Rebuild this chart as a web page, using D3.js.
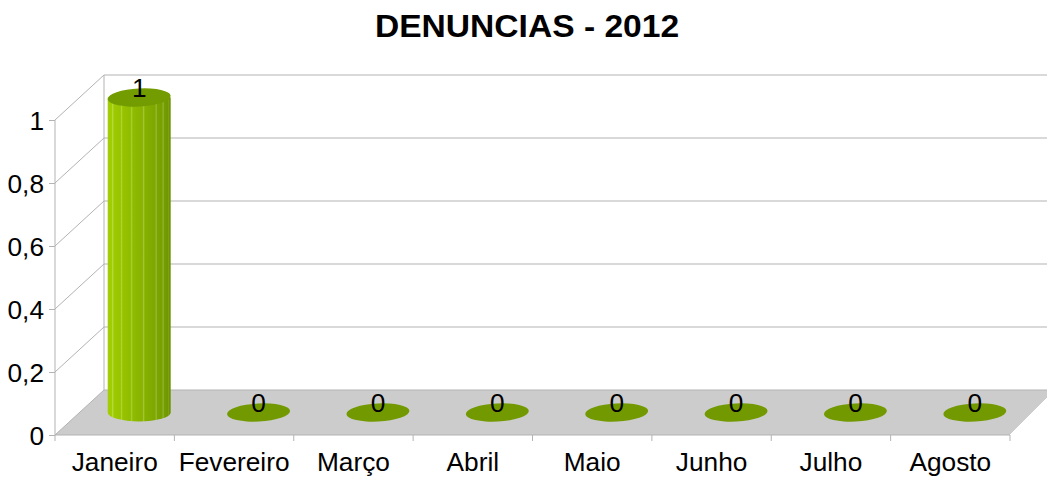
<!DOCTYPE html>
<html>
<head>
<meta charset="utf-8">
<script src="https://cdn.jsdelivr.net/npm/d3@7"></script>
<style>
  html, body { margin: 0; padding: 0; background: #fff; }
  svg { display: block; font-family: "Liberation Sans", Arial, sans-serif; }
</style>
</head>
<body>
<svg id="chart" width="1047" height="477"></svg>
<script>
// Monthly complaint counts for 2012
const months = ["Janeiro", "Fevereiro", "Março", "Abril", "Maio", "Junho", "Julho", "Agosto"];
const denuncias = [1, 0, 0, 0, 0, 0, 0, 0];
const yTicks = [0, 0.2, 0.4, 0.6, 0.8, 1];
const chartTitle = "DENUNCIAS - 2012";

const svg = d3.select("#chart");
const W = 1047;

// Front plane scales and the oblique depth offset of the 3D box
const x = d3.scaleBand().domain(months).range([55, 1010]);
const y = d3.scaleLinear().domain([0, 1]).range([435, 120]);
const depth = { dx: 49, dy: -45 };
const gridColor = "#b3b3b3";
const stretch = 1.05; // horizontal widening of the text glyphs

const fmt = v => String(v).replace(".", ",");

// Cylinder shading
const defs = svg.append("defs");
const grad = defs.append("linearGradient").attr("id", "cyl").attr("x1", 0).attr("x2", 1).attr("y1", 0).attr("y2", 0);
const stops = [
  [0, "#a2ce05"], [0.06, "#a0cc02"], [0.08, "#b6dc40"], [0.1, "#9dc900"],
  [0.2, "#98c400"], [0.22, "#aed430"], [0.24, "#96c200"], [0.36, "#91bd00"],
  [0.38, "#a8cf30"], [0.4, "#8fbb00"], [0.55, "#88b200"], [0.57, "#a2c735"],
  [0.59, "#86b000"], [0.75, "#7ea700"], [0.77, "#98bc35"], [0.79, "#7ca400"],
  [0.86, "#77a000"], [0.88, "#90b530"], [0.9, "#759d00"], [0.95, "#719800"],
  [0.96, "#8aaf2c"], [0.97, "#6f9600"], [1, "#6c9200"]
];
grad.selectAll("stop").data(stops).join("stop")
  .attr("offset", d => d[0]).attr("stop-color", d => d[1]);

// Floor
const x0 = x.range()[0], x1 = x.range()[1], yb = y(0);
svg.append("polygon")
  .attr("points", [
    [x0, yb], [x1, yb], [x1 + 45, yb + depth.dy], [x0 + depth.dx, yb + depth.dy]
  ].map(p => p.join(",")).join(" "))
  .attr("fill", "#cccccc");

// Back wall gridlines and the left wall diagonals
const grid = svg.append("g").attr("stroke", gridColor).attr("stroke-width", 1).attr("fill", "none");
yTicks.forEach(t => {
  const yy = y(t);
  grid.append("line")
    .attr("x1", x0 + depth.dx).attr("x2", W + 10)
    .attr("y1", yy + depth.dy).attr("y2", yy + depth.dy);
  grid.append("line")
    .attr("x1", x0).attr("y1", yy)
    .attr("x2", x0 + depth.dx).attr("y2", yy + depth.dy);
});
grid.append("line")
  .attr("x1", x0 + depth.dx).attr("x2", x0 + depth.dx)
  .attr("y1", y(1) + depth.dy).attr("y2", y(0) + depth.dy);
// Right edge of the floor
grid.append("line").attr("stroke", "#ffffff")
  .attr("x1", x1).attr("y1", yb).attr("x2", x1 + 45).attr("y2", yb + depth.dy);

// Y axis on the front plane
const yAxis = svg.append("g")
  .attr("transform", `translate(${x0},0)`)
  .call(d3.axisLeft(y).tickValues(yTicks).tickSize(6).tickPadding(5).tickFormat(fmt));
yAxis.select(".domain").attr("stroke", gridColor).attr("d", `M0,${y(1)}V${y(0)}`);
yAxis.selectAll(".tick line").attr("stroke", gridColor);
yAxis.selectAll(".tick text")
  .attr("font-size", 25).attr("fill", "#000").attr("font-family", "Liberation Sans, Arial, sans-serif")
  .attr("dy", "0.36em")
  .attr("transform", function () {
    const tx = +d3.select(this).attr("x");
    return `translate(${tx},0) scale(${stretch},1) translate(${-tx},0)`;
  });

// X axis: baseline, ticks at category boundaries, labels at centres
const xAxis = svg.append("g");
xAxis.append("line").attr("stroke", gridColor)
  .attr("x1", x0).attr("x2", x1).attr("y1", yb).attr("y2", yb);
const bounds = months.map(m => x(m)).concat([x1]);
xAxis.selectAll("line.tk").data(bounds).join("line").attr("class", "tk")
  .attr("stroke", gridColor)
  .attr("x1", d => d).attr("x2", d => d).attr("y1", yb).attr("y2", yb + 6);
xAxis.selectAll("text").data(months).join("text")
  .attr("text-anchor", "middle").attr("font-size", 25).attr("fill", "#000")
  .attr("transform", d => `translate(${x(d) + x.bandwidth() / 2},471) scale(${stretch},1)`)
  .text(d => d);

// Cylinders, drawn half way into the depth of the box
const rx = 31.5, ry = 9, tilt = -3;
const bars = svg.append("g");
months.forEach((m, i) => {
  const v = denuncias[i];
  const cx = x(m) + x.bandwidth() / 2 + depth.dx / 2;
  const topY = y(v) + depth.dy / 2;
  const botY = y(0) + depth.dy / 2;
  const g = bars.append("g");
  if (v > 0) {
    g.append("path")
      .attr("d", `M${cx - rx},${topY} V${botY} A${rx},${ry} 0 0 0 ${cx + rx},${botY} V${topY} Z`)
      .attr("fill", "url(#cyl)");
    g.append("ellipse")
      .attr("cx", cx).attr("cy", topY).attr("rx", rx).attr("ry", ry)
      .attr("transform", `rotate(${tilt},${cx},${topY})`)
      .attr("fill", "#739c00");
  } else {
    g.append("ellipse")
      .attr("cx", cx).attr("cy", botY).attr("rx", rx).attr("ry", ry)
      .attr("transform", `rotate(${tilt},${cx},${botY})`)
      .attr("fill", "#729a00");
  }
  g.append("text")
    .attr("text-anchor", "middle").attr("font-size", 25).attr("fill", "#000")
    .attr("transform", `translate(${cx},${topY - 1}) scale(${stretch},1)`)
    .text(fmt(v));
});

// Title
svg.append("text")
  .attr("text-anchor", "middle").attr("font-size", 32).attr("font-weight", "bold").attr("fill", "#000")
  .attr("transform", `translate(527,37) scale(${stretch},1)`)
  .text(chartTitle);
</script>
</body>
</html>
